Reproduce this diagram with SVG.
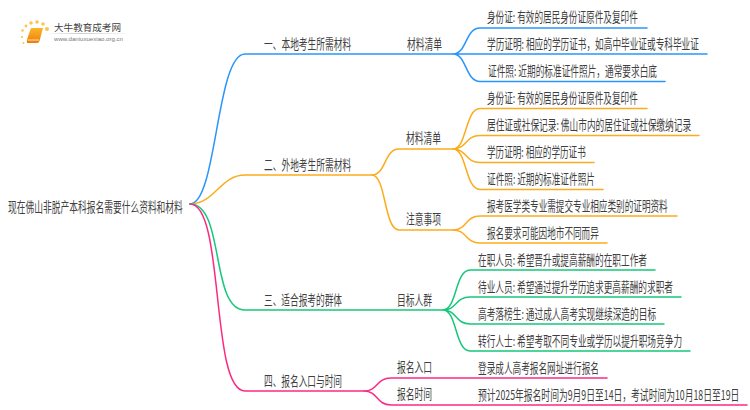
<svg xmlns="http://www.w3.org/2000/svg" width="750" height="410" viewBox="0 0 750 410">
<defs>
<style>
text{font-family:"Noto Sans CJK SC","Noto Sans",sans-serif;font-size:13.500px;fill:#3f3f3f}
.c{fill:none;stroke-width:1.5;stroke-linecap:round}
.b{stroke:#2a95fb}.o{stroke:#fbac1c}.g{stroke:#16c77a}.p{stroke:#fb2a80}
</style>
<linearGradient id="bk" x1="0" y1="0" x2="0" y2="1"><stop offset="0" stop-color="#fbb62a"/><stop offset="1" stop-color="#ee7d0c"/></linearGradient>
<linearGradient id="rl" x1="0" y1="0" x2="1" y2="0"><stop offset="0" stop-color="#ccc" stop-opacity="0"/><stop offset=".4" stop-color="#ccc"/><stop offset="1" stop-color="#ccc" stop-opacity="0"/></linearGradient>
</defs>
<rect width="750" height="410" fill="#fff"/>
<g id="logo">
<g fill="#fbc64a"><circle cx="47" cy="29" r="2"/><circle cx="43" cy="24" r="1.800"/><circle cx="37" cy="22" r="1.800"/><circle cx="31" cy="23" r="1.800"/><circle cx="26" cy="26" r="1.400"/><circle cx="22.500" cy="30.500" r="1.300"/><circle cx="22" cy="37" r="1.100"/><circle cx="23.500" cy="43" r="1"/></g>
<path d="M31 28H43L39.500 41Q39 43 37 43H27Q26.500 41 27.500 38Z" fill="url(#bk)"/>
<path d="M28 40H39" stroke="#fde3b0" stroke-width="1"/>
<rect x="45" y="33" width="88" height="1" fill="url(#rl)"/>
<text x="54" y="31" style="font-size:9.500px" textLength="67" lengthAdjust="spacingAndGlyphs">大牛教育成考网</text>
<text x="54" y="41" style="font-size:5.500px;fill:#777;font-family:'Liberation Sans',sans-serif" textLength="69" lengthAdjust="spacingAndGlyphs">www.daniuxuexiao.org.cn</text>
</g>
<g id="connectors">
<path class="c b" d="M190 204C217 204 216 54 245 54H453"/>
<path class="c o" d="M190 204C215 204 220 175 245 175H372"/>
<path class="c g" d="M190 204C225 204 210 310 245 310H443"/>
<path class="c p" d="M190 204C225 204 210 391 245 391H364"/>
<path class="c b" d="M453 54C467 54 465 28 480 28H647M453 54H707M453 54C467 54 465 81.500 480 81.500H665"/>
<path class="c o" d="M372 175C386 175 384 149 399 149H453M372 175C386 175 384 230 399 230H453"/>
<path class="c o" d="M453 149C467 149 465 108.500 480 108.500H647M453 149C467 149 465 135.500 480 135.500H699M453 149C467 149 465 162.500 480 162.500H594M453 149C467 149 465 189.500 480 189.500H603"/>
<path class="c o" d="M453 230C467 230 465 216 480 216H677M453 230C467 230 465 243 480 243H607"/>
<path class="c g" d="M443 310C457 310 455 270 470 270H655M443 310C457 310 455 297 470 297H681M443 310C457 310 455 324 470 324H664M443 310C457 310 455 351 470 351H690"/>
<path class="c p" d="M364 391C378 391 376 378 391 378H607M364 391C378 391 376 405 391 405H747"/>
</g>
<g id="root"><text transform="translate(8,212) scale(.65,1)" textLength="269" lengthAdjust="spacingAndGlyphs">现在佛山非脱产本科报名需要什么资料和材料</text></g>
<g id="n1"><text transform="translate(264,49) scale(.65,1)" textLength="134" lengthAdjust="spacingAndGlyphs">一、本地考生所需材料</text></g>
<g id="n2"><text transform="translate(264,170) scale(.65,1)" textLength="134" lengthAdjust="spacingAndGlyphs">二、外地考生所需材料</text></g>
<g id="n3"><text transform="translate(264,305) scale(.65,1)" textLength="120" lengthAdjust="spacingAndGlyphs">三、适合报考的群体</text></g>
<g id="n4"><text transform="translate(264,386) scale(.65,1)" textLength="120" lengthAdjust="spacingAndGlyphs">四、报名入口与时间</text></g>
<g id="m1"><text transform="translate(407,49) scale(.65,1)" textLength="54" lengthAdjust="spacingAndGlyphs">材料清单</text></g>
<g id="m2"><text transform="translate(406,143) scale(.65,1)" textLength="54" lengthAdjust="spacingAndGlyphs">材料清单</text></g>
<g id="m3"><text transform="translate(406,224) scale(.65,1)" textLength="54" lengthAdjust="spacingAndGlyphs">注意事项</text></g>
<g id="m4"><text transform="translate(397,305) scale(.65,1)" textLength="54" lengthAdjust="spacingAndGlyphs">目标人群</text></g>
<g id="m5"><text transform="translate(397,372) scale(.65,1)" textLength="54" lengthAdjust="spacingAndGlyphs">报名入口</text></g>
<g id="m6"><text transform="translate(397,399) scale(.65,1)" textLength="54" lengthAdjust="spacingAndGlyphs">报名时间</text></g>
<g id="l1"><text transform="translate(487,22) scale(.65,1)" textLength="232" lengthAdjust="spacingAndGlyphs">身份证: 有效的居民身份证原件及复印件</text></g>
<g id="l2"><text transform="translate(487,49) scale(.65,1)" textLength="326" lengthAdjust="spacingAndGlyphs">学历证明: 相应的学历证书，如高中毕业证或专科毕业证</text></g>
<g id="l3"><text transform="translate(488,76) scale(.65,1)" textLength="260" lengthAdjust="spacingAndGlyphs">证件照: 近期的标准证件照片，通常要求白底</text></g>
<g id="l4"><text transform="translate(487,103) scale(.65,1)" textLength="232" lengthAdjust="spacingAndGlyphs">身份证: 有效的居民身份证原件及复印件</text></g>
<g id="l5"><text transform="translate(487,130) scale(.65,1)" textLength="314" lengthAdjust="spacingAndGlyphs">居住证或社保记录: 佛山市内的居住证或社保缴纳记录</text></g>
<g id="l6"><text transform="translate(487,157) scale(.65,1)" textLength="152" lengthAdjust="spacingAndGlyphs">学历证明: 相应的学历证书</text></g>
<g id="l7"><text transform="translate(487,184) scale(.65,1)" textLength="166" lengthAdjust="spacingAndGlyphs">证件照: 近期的标准证件照片</text></g>
<g id="l8"><text transform="translate(487,211) scale(.65,1)" textLength="278" lengthAdjust="spacingAndGlyphs">报考医学类专业需提交专业相应类别的证明资料</text></g>
<g id="l9"><text transform="translate(487,238) scale(.65,1)" textLength="172" lengthAdjust="spacingAndGlyphs">报名要求可能因地市不同而异</text></g>
<g id="l10"><text transform="translate(478,265) scale(.65,1)" textLength="260" lengthAdjust="spacingAndGlyphs">在职人员: 希望晋升或提高薪酬的在职工作者</text></g>
<g id="l11"><text transform="translate(478,292) scale(.65,1)" textLength="300" lengthAdjust="spacingAndGlyphs">待业人员: 希望通过提升学历追求更高薪酬的求职者</text></g>
<g id="l12"><text transform="translate(478,319) scale(.65,1)" textLength="274" lengthAdjust="spacingAndGlyphs">高考落榜生: 通过成人高考实现继续深造的目标</text></g>
<g id="l13"><text transform="translate(478,346) scale(.65,1)" textLength="314" lengthAdjust="spacingAndGlyphs">转行人士: 希望考取不同专业或学历以提升职场竞争力</text></g>
<g id="l14"><text transform="translate(478,373) scale(.65,1)" textLength="186" lengthAdjust="spacingAndGlyphs">登录成人高考报名网址进行报名</text></g>
<g id="l15"><text transform="translate(478,400) scale(.65,1)" textLength="402" lengthAdjust="spacingAndGlyphs">预计2025年报名时间为9月9日至14日，考试时间为10月18日至19日</text></g>
</svg>
